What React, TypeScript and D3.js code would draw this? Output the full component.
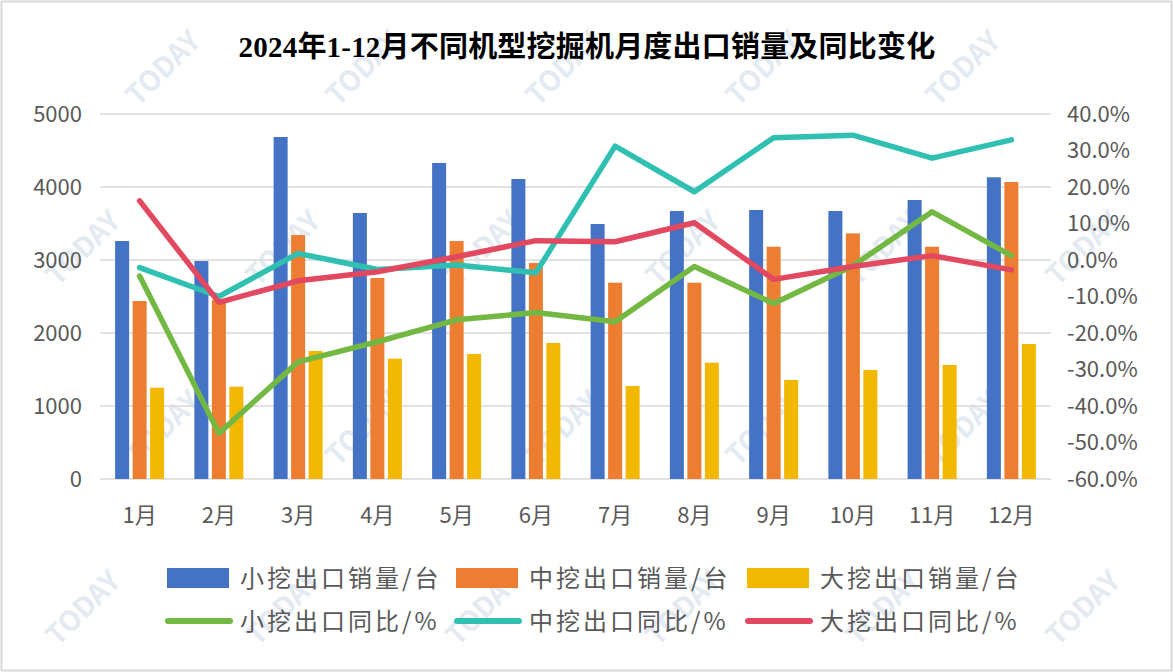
import { useEffect } from 'react';
import { line, scaleBand, scaleLinear } from 'd3';

const months = ['1月', '2月', '3月', '4月', '5月', '6月', '7月', '8月', '9月', '10月', '11月', '12月'];

// 出口销量/台
const smallSales = [3260, 2986, 4685, 3644, 4329, 4110, 3493, 3671, 3685, 3671, 3822, 4133];
const midSales = [2438, 2450, 3342, 2753, 3260, 2959, 2689, 2689, 3182, 3365, 3182, 4068];
const largeSales = [1251, 1265, 1753, 1648, 1712, 1863, 1274, 1593, 1356, 1493, 1562, 1849];

// 同比/%
const smallYoy = [-4.4, -47.5, -27.9, -22.4, -16.4, -14.4, -16.9, -1.8, -11.9, -1.6, 13.2, 1.2];
const midYoy = [-2.1, -10.0, 1.8, -2.6, -1.4, -3.5, 31.2, 18.7, 33.5, 34.2, 27.9, 32.9];
const largeYoy = [16.2, -11.6, -5.7, -3.2, 0.9, 5.3, 5.0, 10.2, -5.3, -1.8, 1.2, -2.7];

const leftTicks = [0, 1000, 2000, 3000, 4000, 5000];
const rightTicks = [-60, -50, -40, -30, -20, -10, 0, 10, 20, 30, 40];

const barSeries = [
  { name: '小挖出口销量/台', values: smallSales, color: '#4472C4' },
  { name: '中挖出口销量/台', values: midSales, color: '#ED7D31' },
  { name: '大挖出口销量/台', values: largeSales, color: '#F2B800' },
];
const lineSeries = [
  { name: '小挖出口同比/%', values: smallYoy, color: '#72B843' },
  { name: '中挖出口同比/%', values: midYoy, color: '#30C0B2' },
  { name: '大挖出口同比/%', values: largeYoy, color: '#E2485F' },
];

const width = 1173;
const height = 672;
const plot = { left: 100, right: 1051, top: 114, bottom: 479 };
const font = '"Noto Sans CJK SC", "Noto Sans", sans-serif';
const labelColor = '#595959';

export default function App() {
  useEffect(() => {
    document.body.style.margin = '0';
  }, []);

  const x = scaleBand<string>().domain(months).range([plot.left, plot.right]);
  const yLeft = scaleLinear().domain([0, 5000]).range([plot.bottom, plot.top]);
  const yRight = scaleLinear().domain([-60, 40]).range([plot.bottom, plot.top]);
  const barWidth = 14;
  const barStep = 17.5;
  const center = (m: string) => (x(m) ?? 0) + x.bandwidth() / 2;

  const path = line<number>()
    .x((_, i) => center(months[i]))
    .y((d) => yRight(d));

  const legendCols = [167, 456, 747];
  const legendRows = [578, 621];

  // watermark grid, kept inside the frame
  const marks: { x: number; y: number }[] = [];
  for (let r = 0; r < 4; r++) {
    for (let c = 0; c < 7; c++) {
      const mx = 170 + c * 200 - (r % 2) * 80;
      const my = 75 + r * 180;
      if (mx > 60 && mx < width - 60 && my > 50 && my < height - 50) marks.push({ x: mx, y: my });
    }
  }

  return (
    <svg width={width} height={height} style={{ display: 'block', background: '#fff' }}>
      <rect x={1.5} y={1.5} width={width - 3} height={height - 3} fill="#fff" stroke="#D9D9D9" strokeWidth={2} />

      {/* faint watermark */}
      <g fill="#E3EAF2" fontFamily={font} fontWeight={700}>
        {marks.map((m, i) => (
          <text key={i} x={m.x} y={m.y} fontSize={28} textAnchor="middle" transform={`rotate(-45 ${m.x} ${m.y})`}>
            TODAY
          </text>
        ))}
      </g>

      <text
        x={587}
        y={57}
        textAnchor="middle"
        fontSize={29}
        fontWeight={700}
        fontFamily={'"Liberation Serif", "Noto Sans CJK SC", serif'}
        fill="#000"
        letterSpacing={0.2}
      >
        2024年1-12月不同机型挖掘机月度出口销量及同比变化
      </text>

      <g stroke="#D9D9D9" strokeWidth={1.5}>
        {leftTicks.map((t) => (
          <line key={t} x1={plot.left} x2={plot.right} y1={yLeft(t)} y2={yLeft(t)} />
        ))}
      </g>

      <g fontFamily={font} fontSize={22} fill={labelColor}>
        {leftTicks.map((t) => (
          <text key={t} x={82} y={yLeft(t)} dy="0.36em" textAnchor="end">
            {t}
          </text>
        ))}
        {rightTicks.map((t) => (
          <text key={t} x={1067} y={yRight(t)} dy="0.36em" textAnchor="start">
            {t.toFixed(1)}%
          </text>
        ))}
        {months.map((m) => (
          <text key={m} x={center(m)} y={515} dy="0.36em" textAnchor="middle">
            {m}
          </text>
        ))}
      </g>

      {barSeries.map((s, si) => (
        <g key={s.name} fill={s.color}>
          {s.values.map((v, i) => {
            const cx = center(months[i]) + (si - 1) * barStep;
            return (
              <rect key={i} x={cx - barWidth / 2} y={yLeft(v)} width={barWidth} height={yLeft(0) - yLeft(v)} />
            );
          })}
        </g>
      ))}

      {lineSeries.map((s) => (
        <path
          key={s.name}
          d={path(s.values) ?? ''}
          fill="none"
          stroke={s.color}
          strokeWidth={5.5}
          strokeLinecap="round"
          strokeLinejoin="round"
        />
      ))}

      <g fontFamily={font} fontSize={24} fill={labelColor} letterSpacing={3}>
        {barSeries.map((s, i) => (
          <g key={s.name}>
            <rect x={legendCols[i]} y={legendRows[0] - 10} width={62} height={20} fill={s.color} />
            <text x={legendCols[i] + 73} y={legendRows[0]} dy="0.36em">
              {s.name}
            </text>
          </g>
        ))}
        {lineSeries.map((s, i) => (
          <g key={s.name}>
            <line
              x1={legendCols[i] + 1}
              x2={legendCols[i] + 63}
              y1={legendRows[1]}
              y2={legendRows[1]}
              stroke={s.color}
              strokeWidth={6}
              strokeLinecap="round"
            />
            <text x={legendCols[i] + 73} y={legendRows[1]} dy="0.36em">
              {s.name}
            </text>
          </g>
        ))}
      </g>
    </svg>
  );
}
